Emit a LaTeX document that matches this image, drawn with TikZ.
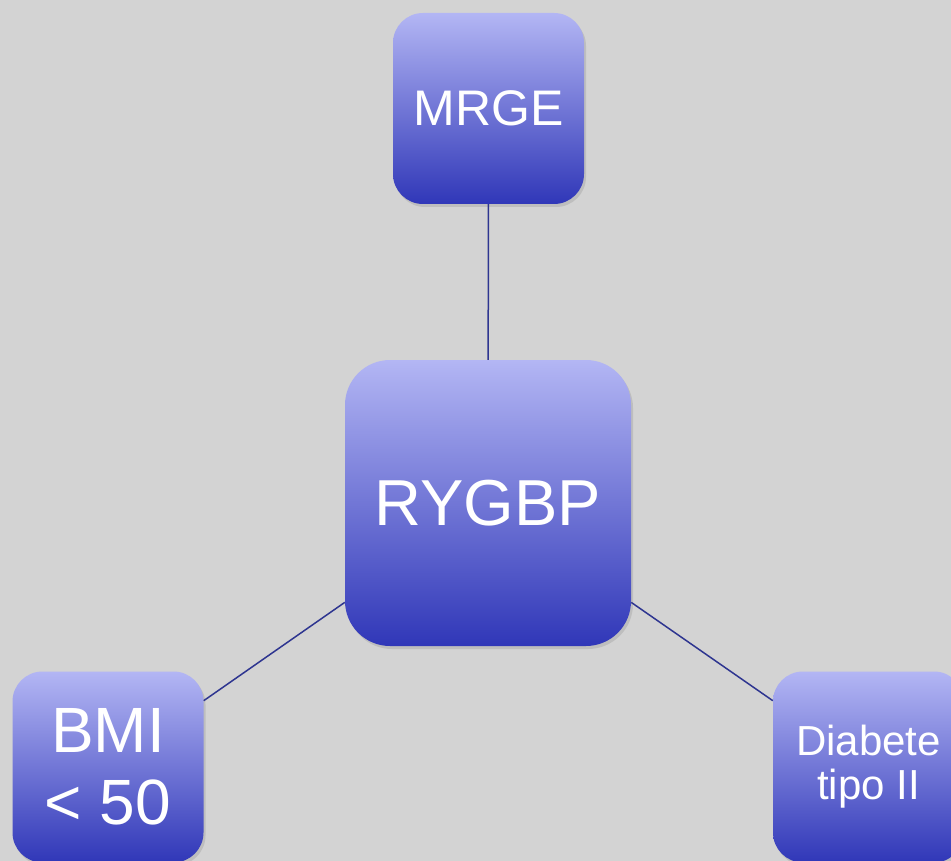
\documentclass[tikz,border=0pt]{standalone}
\usepackage{fontspec}
\setmainfont{Liberation Sans}
\usetikzlibrary{shadows}
\definecolor{bgc}{HTML}{D3D3D3}
\definecolor{boxtop}{HTML}{B3B6F4}
\definecolor{boxbot}{HTML}{3037B8}
\definecolor{edgec}{HTML}{2E3590}
\begin{document}
\begin{tikzpicture}[x=1pt,y=-1pt,
  topicbox/.style={rectangle, minimum width=191pt, minimum height=191pt,
    rounded corners=30pt, top color=boxtop, bottom color=boxbot,
    text=white, align=center, inner sep=0pt,
    drop shadow={opacity=0.25, shadow xshift=2pt, shadow yshift=-3pt}},
  bigbox/.style={topicbox, minimum width=286pt, minimum height=286pt, rounded corners=45pt},
  link/.style={draw=edgec, line width=1.5pt}]
\clip (0,0) rectangle (951,861);
\fill[bgc] (0,0) rectangle (951,861);
\node[bigbox, font=\fontsize{65}{72}\selectfont] (rygbp) at (488,503) {RYGBP};
\node[topicbox, font=\fontsize{50}{60}\selectfont] (mrge) at (488.5,108.5) {MRGE};
\node[topicbox, font=\fontsize{64}{72}\selectfont] (bmi) at (108,767) {BMI\\< 50};
\node[topicbox, font=\fontsize{42}{44}\selectfont] (diab) at (868.5,767) {Diabete\\tipo II};
\draw[link] (mrge) -- (rygbp);
\draw[link] (rygbp) -- (bmi);
\draw[link] (rygbp) -- (diab);
\end{tikzpicture}
\end{document}
